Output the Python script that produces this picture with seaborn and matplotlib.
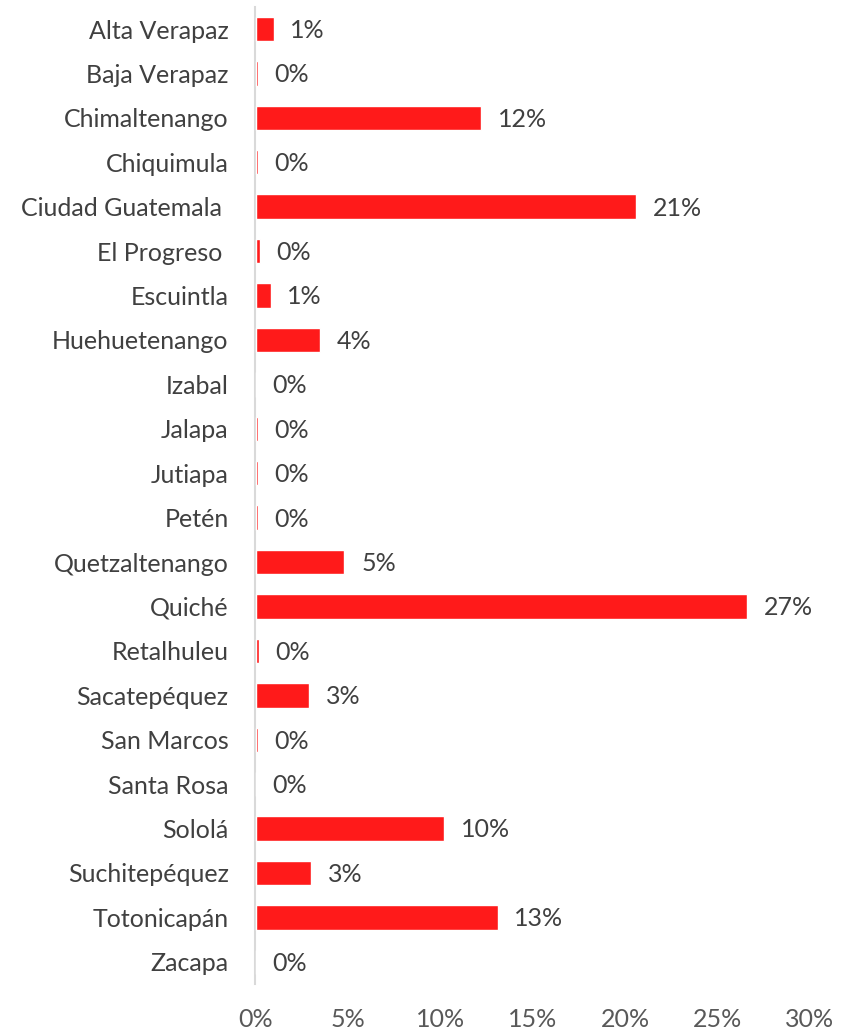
import pandas as pd
import matplotlib
matplotlib.use("Agg")
import matplotlib.pyplot as plt
import seaborn as sns
from matplotlib.ticker import PercentFormatter

# Departments and share of cases (percent)
departments = ['Alta Verapaz', 'Baja Verapaz', 'Chimaltenango', 'Chiquimula',
               'Ciudad Guatemala ', 'El Progreso ', 'Escuintla', 'Huehuetenango',
               'Izabal', 'Jalapa', 'Jutiapa', 'Petén', 'Quetzaltenango', 'Quiché',
               'Retalhuleu', 'Sacatepéquez', 'San Marcos', 'Santa Rosa', 'Sololá',
               'Suchitepéquez', 'Totonicapán', 'Zacapa']
shares = [0.97, 0.1, 12.2, 0.1, 20.6, 0.2, 0.8, 3.5, 0.0, 0.1, 0.1, 0.1,
          4.8, 26.6, 0.15, 2.9, 0.1, 0.0, 10.2, 3.0, 13.1, 0.0]
data = pd.DataFrame({'dept': departments, 'share': shares})

sns.set_style('white')
plt.rcParams['font.family'] = ['Lato', 'DejaVu Sans']

fig = plt.figure(figsize=(8.47, 10.33), dpi=100)
ax = fig.add_axes([0.301, 0.0474, 0.655, 0.946])
sns.barplot(data=data, x='share', y='dept', orient='h', color='#FF1A1A',
            saturation=1, width=0.55, ax=ax)

for i, v in enumerate(shares):
    ax.annotate(f'{v:.0f}%', xy=(v, i), xytext=(12, -1), textcoords='offset points',
                va='center', ha='left', fontsize=18, color='#404040')

ax.set_xlim(-0.05, 30)
ax.set_ylim(len(departments) - 0.5, -0.5)
ax.set_xticks(range(0, 31, 5))
ax.xaxis.set_major_formatter(PercentFormatter(decimals=0))
ax.set_xlabel('')
ax.set_ylabel('')
ax.tick_params(axis='x', length=0, pad=17, labelsize=18, labelcolor='#595959')
ax.tick_params(axis='y', length=0, pad=19, labelsize=18, labelcolor='#404040')
for s in ['top', 'right', 'bottom']:
    ax.spines[s].set_visible(False)
ax.spines['left'].set_color('#D9D9D9')
ax.spines['left'].set_linewidth(1.5)
ax.spines['left'].set_zorder(0.5)

fig.savefig('out.png', dpi=100)
